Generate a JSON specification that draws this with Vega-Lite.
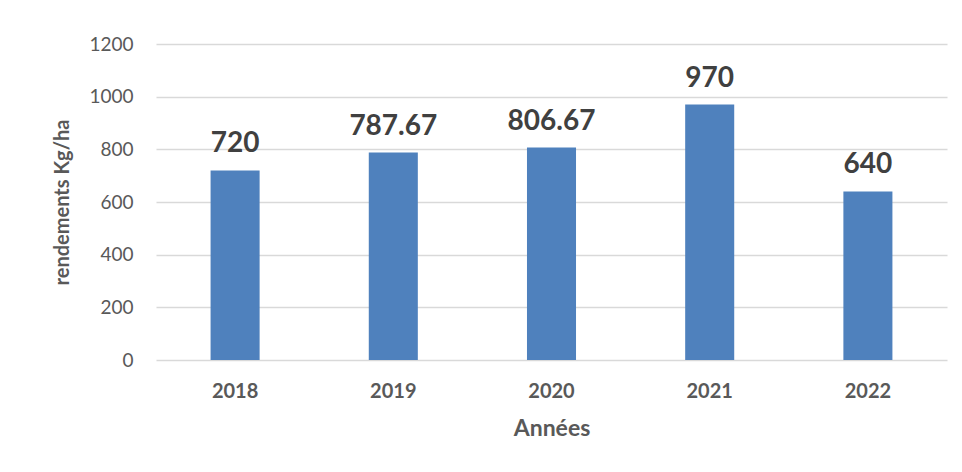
{
  "$schema": "https://vega.github.io/schema/vega-lite/v6.json",
  "autosize": {"type": "none"},
  "width": 791,
  "height": 316,
  "padding": {"left": 156, "top": 44, "right": 15, "bottom": 112},
  "background": "white",
  "config": {
    "view": {"stroke": null},
    "font": "Lato"
  },
  "data": {
    "values": [
      {"annee": "2018", "rendement": 720, "label": "720"},
      {"annee": "2019", "rendement": 787.67, "label": "787.67"},
      {"annee": "2020", "rendement": 806.67, "label": "806.67"},
      {"annee": "2021", "rendement": 970, "label": "970"},
      {"annee": "2022", "rendement": 640, "label": "640"}
    ]
  },
  "encoding": {
    "x": {
      "field": "annee",
      "type": "nominal",
      "scale": {"paddingInner": 0.69, "paddingOuter": 0.345},
      "axis": {
        "title": "Années",
        "labelAngle": 0,
        "labelFontSize": 20,
        "labelFontWeight": "bold",
        "labelColor": "#595959",
        "labelPadding": 21,
        "ticks": false,
        "domain": false,
        "titleFontSize": 23,
        "titleFontWeight": "bold",
        "titleColor": "#595959",
        "titlePadding": 16
      }
    },
    "y": {
      "field": "rendement",
      "type": "quantitative",
      "scale": {"domain": [0, 1200]},
      "axis": {
        "title": "rendements Kg/ha",
        "values": [0, 200, 400, 600, 800, 1000, 1200],
        "format": "d",
        "labelFontSize": 19,
        "labelColor": "#595959",
        "labelPadding": 23,
        "ticks": false,
        "domain": false,
        "gridColor": "#D9D9D9",
        "gridWidth": 1.5,
        "titleFontSize": 20,
        "titleFontWeight": "bold",
        "titleColor": "#595959",
        "titlePadding": 16
      }
    }
  },
  "layer": [
    {
      "mark": {"type": "bar", "color": "#4F81BD"}
    },
    {
      "mark": {"type": "text", "baseline": "alphabetic", "dy": -18, "fontSize": 28, "fontWeight": "bold", "color": "#404040"},
      "encoding": {"text": {"field": "label"}}
    }
  ]
}
